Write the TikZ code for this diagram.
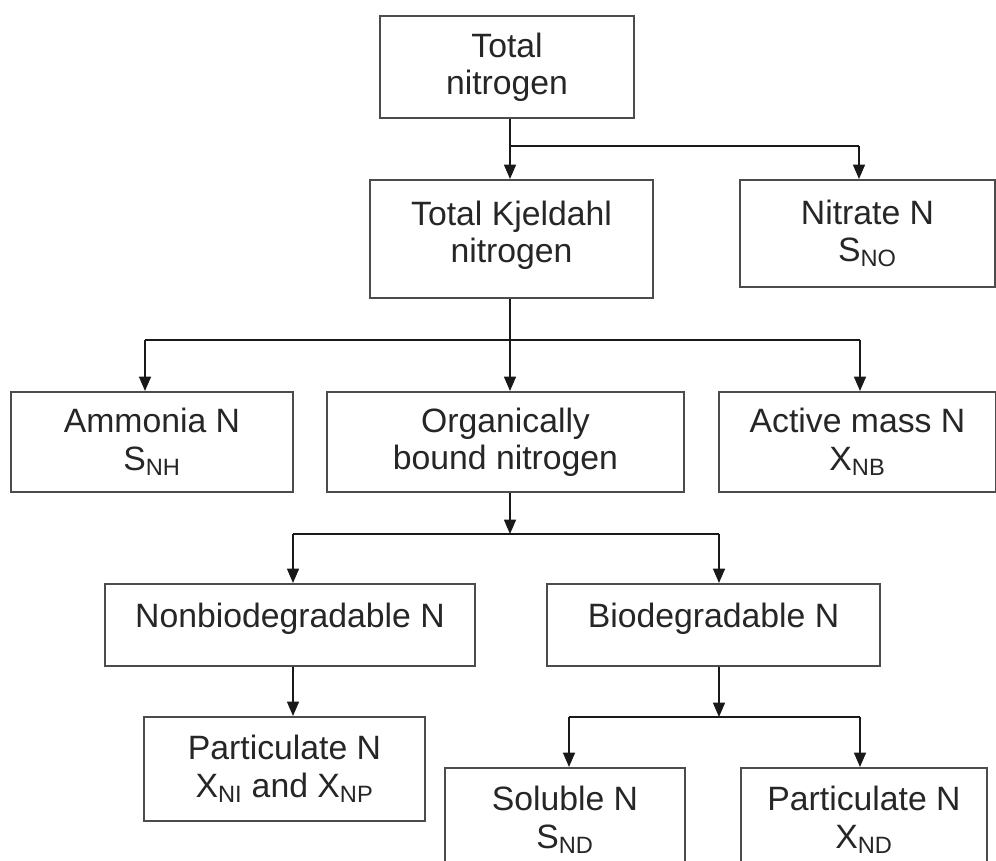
\documentclass[tikz,border=0pt]{standalone}
\usepackage{fontspec}
\setmainfont{Liberation Sans}
\usepackage{tikz}
\usetikzlibrary{arrows.meta, positioning}
\tikzset{
    nBox/.style={rectangle, draw=black!70, line width=1.4pt, fill=white, align=center, inner sep=0pt,
        text=black!85, font=\fontsize{24}{26.5}\selectfont},
    conn/.style={line width=1.1pt, draw=black!90},
    arrow/.style={conn, -{Triangle[length=0.36cm, width=0.3cm]}}
}

\begin{document}
\begin{tikzpicture}[x=0.025cm, y=-0.025cm]
    % Frame of the picture
    \useasboundingbox (0,0) rectangle (996,861);
    \clip (0,0) rectangle (996,861);

    % Top levels
    \node[nBox, minimum width=6.35cm, minimum height=2.55cm] (tn) at (507,67) {Total\\nitrogen};
    \node[nBox, minimum width=7.075cm, minimum height=2.95cm, text depth=0.35cm] (tkn) at (511.5,239) {Total Kjeldahl\\nitrogen};
    \node[nBox, minimum width=6.375cm, minimum height=2.675cm] (nitrate) at (867.5,233.5) {Nitrate N\\S\textsubscript{NO}};

    % Kjeldahl parts
    \node[nBox, minimum width=7.05cm, minimum height=2.5cm] (amm) at (152,442) {Ammonia N\\S\textsubscript{NH}};
    \node[nBox, minimum width=8.925cm, minimum height=2.5cm] (org) at (505.5,442) {Organically\\bound nitrogen};
    \node[nBox, minimum width=6.925cm, minimum height=2.5cm] (act) at (857.5,442) {Active mass N\\X\textsubscript{NB}};

    % Organic parts
    \node[nBox, minimum width=9.25cm, minimum height=2.05cm, text depth=0.47cm] (nonbio) at (290,625) {Nonbiodegradable N};
    \node[nBox, minimum width=8.325cm, minimum height=2.05cm, text depth=0.47cm] (bio) at (713.5,625) {Biodegradable N};

    % Lowest level (cut at the bottom)
    \node[nBox, minimum width=7.025cm, minimum height=2.6cm] (partNI) at (284.5,769) {Particulate N\\X\textsubscript{NI} and X\textsubscript{NP}};
    \node[nBox, minimum width=6cm, minimum height=2.6cm] (sol) at (565,820) {Soluble N\\S\textsubscript{ND}};
    \node[nBox, minimum width=6.15cm, minimum height=2.6cm] (partND) at (864,820) {Particulate N\\X\textsubscript{ND}};

    % Split under total nitrogen
    \coordinate (s1) at (510,146);
    \coordinate (s1r) at (859,146);
    \draw[conn] (tn.south -| s1) -- (s1) -- (s1r);
    \draw[arrow] (s1) -- (s1 |- tkn.north);
    \draw[arrow] (s1r) -- (s1r |- nitrate.north);

    % Split under Kjeldahl nitrogen
    \coordinate (s2l) at (145,340);
    \coordinate (s2) at (510,340);
    \coordinate (s2r) at (860,340);
    \draw[conn] (tkn.south -| s2) -- (s2);
    \draw[conn] (s2l) -- (s2r);
    \draw[arrow] (s2) -- (s2 |- org.north);
    \draw[arrow] (s2l) -- (s2l |- amm.north);
    \draw[arrow] (s2r) -- (s2r |- act.north);

    % Split under organically bound nitrogen
    \coordinate (s3l) at (293,534);
    \coordinate (s3) at (510,534);
    \coordinate (s3r) at (719,534);
    \draw[arrow] (org.south -| s3) -- (s3);
    \draw[conn] (s3l) -- (s3r);
    \draw[arrow] (s3l) -- (s3l |- nonbio.north);
    \draw[arrow] (s3r) -- (s3r |- bio.north);
    \draw[arrow] (nonbio.south -| s3l) -- (s3l |- partNI.north);

    % Split under biodegradable N
    \coordinate (s4l) at (569,717);
    \coordinate (s4) at (719,717);
    \coordinate (s4r) at (860,717);
    \draw[arrow] (bio.south -| s4) -- (s4);
    \draw[conn] (s4l) -- (s4r);
    \draw[arrow] (s4l) -- (s4l |- sol.north);
    \draw[arrow] (s4r) -- (s4r |- partND.north);

\end{tikzpicture}
\end{document}
